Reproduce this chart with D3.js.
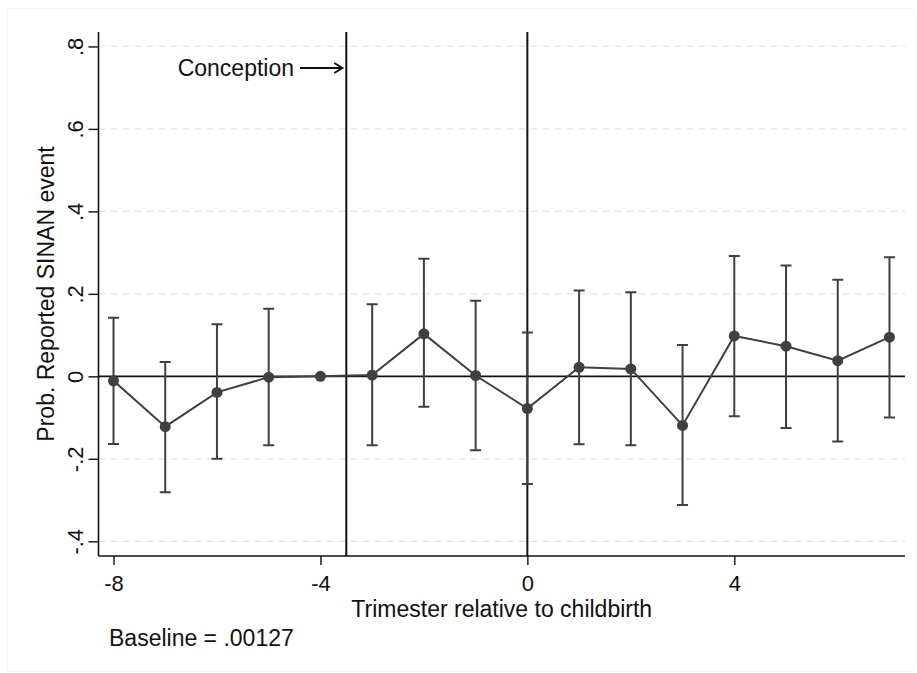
<!DOCTYPE html>
<html><head><meta charset="utf-8">
<script src="https://cdn.jsdelivr.net/npm/d3@7"></script>
<style>html,body{margin:0;padding:0;background:#fff;}svg{display:block;font-family:"Liberation Sans",Arial,sans-serif;}</style>
</head><body>
<svg id="c" width="917" height="673"></svg>
<script>
const trimesters = [-8,-7,-6,-5,-4,-3,-2,-1,0,1,2,3,4,5,6,7];
const estimates  = [-0.011,-0.122,-0.039,-0.002,0,0.003,0.103,0.002,-0.078,0.022,0.018,-0.119,0.098,0.073,0.038,0.095];
const ciLow      = [-0.164,-0.281,-0.200,-0.167,null,-0.167,-0.074,-0.179,-0.261,-0.165,-0.167,-0.312,-0.097,-0.125,-0.158,-0.100];
const ciHigh     = [0.142,0.035,0.126,0.164,null,0.175,0.285,0.183,0.106,0.208,0.204,0.076,0.292,0.269,0.234,0.289];
const yTicks = [-0.4,-0.2,0,0.2,0.4,0.6,0.8];
const yTickLabels = ["-.4","-.2","0",".2",".4",".6",".8"];
const xTicks = [-8,-4,0,4];
const xTickLabels = ["-8","-4","0","4"];
const refLinesX = [-3.5, 0];
const yTitle = "Prob. Reported SINAN event";
const xTitle = "Trimester relative to childbirth";
const noteText = "Baseline = .00127";
const annotText = "Conception";

const svg = d3.select("#c");
const L = 98.5, R = 905, T = 32, B = 556;
const x = d3.scaleLinear().domain([-8.29, 7.30]).range([L, R]);
const y = d3.scaleLinear().domain([-0.4357, 0.835]).range([B, T]);
const col = "#404040";

// faint outer frame
svg.append("rect").attr("x",7.5).attr("y",8.5).attr("width",907).attr("height",663)
  .attr("fill","none").attr("stroke","#f6f6f6").attr("stroke-width",1);

// gridlines
svg.append("g").selectAll("line").data(yTicks.filter(d=>d!==0)).join("line")
  .attr("x1",L).attr("x2",R).attr("y1",d=>y(d)).attr("y2",d=>y(d))
  .attr("stroke","#e3e3e3").attr("stroke-width",1.3).attr("stroke-dasharray","7,5");

// zero line
svg.append("line").attr("x1",L).attr("x2",R).attr("y1",y(0)).attr("y2",y(0))
  .attr("stroke","#111").attr("stroke-width",1.8);

// vertical ref lines
svg.append("g").selectAll("line").data(refLinesX).join("line")
  .attr("x1",d=>x(d)).attr("x2",d=>x(d)).attr("y1",T).attr("y2",B)
  .attr("stroke","#111").attr("stroke-width",2);

// axes
const yAxis = d3.axisLeft(y).tickValues(yTicks).tickFormat((d,i)=>yTickLabels[i]).tickSize(10).tickSizeOuter(0);
const gy = svg.append("g").attr("transform",`translate(${L},0)`).call(yAxis);
gy.select(".domain").attr("stroke","#111").attr("stroke-width",1.6).attr("d",`M0,${T}V${B}`);
gy.selectAll(".tick line").attr("stroke","#111").attr("stroke-width",1.4);
gy.selectAll(".tick text").attr("font-size",22).attr("fill","#111")
  .attr("x",0).attr("y",0).attr("dy",0)
  .attr("text-anchor","middle")
  .attr("transform","translate(-16,0) rotate(-90)");
gy.attr("font-family",null);

const xAxis = d3.axisBottom(x).tickValues(xTicks).tickFormat((d,i)=>xTickLabels[i]).tickSize(9).tickSizeOuter(0);
const gx = svg.append("g").attr("transform",`translate(0,${B})`).call(xAxis);
gx.select(".domain").attr("stroke","#111").attr("stroke-width",1.6).attr("d",`M${L},0H${R}`);
gx.selectAll(".tick line").attr("stroke","#111").attr("stroke-width",1.4);
gx.selectAll(".tick text").attr("font-size",22).attr("fill","#111").attr("y",35).attr("dy",0);
gx.attr("font-family",null);

// error bars
const pts = trimesters.map((t,i)=>({t, e:estimates[i], lo:ciLow[i], hi:ciHigh[i]}));
const eb = svg.append("g").attr("stroke",col).attr("stroke-width",2).attr("fill","none");
pts.filter(d=>d.lo!==null).forEach(d=>{
  const cx = x(d.t), w = 5.5;
  eb.append("path").attr("d",`M${cx},${y(d.lo)}V${y(d.hi)}M${cx-w},${y(d.lo)}H${cx+w}M${cx-w},${y(d.hi)}H${cx+w}`);
});

// series line
svg.append("path").datum(pts).attr("fill","none").attr("stroke",col).attr("stroke-width",2)
  .attr("d",d3.line().x(d=>x(d.t)).y(d=>y(d.e)));
svg.append("g").selectAll("circle").data(pts).join("circle")
  .attr("cx",d=>x(d.t)).attr("cy",d=>y(d.e)).attr("r",5.5).attr("fill",col);

// titles
svg.append("text").attr("transform",`translate(54,${(T+B)/2}) rotate(-90)`)
  .attr("text-anchor","middle").attr("font-size",23).attr("fill","#111").text(yTitle);
svg.append("text").attr("x",(L+R)/2).attr("y",616.5).attr("text-anchor","middle")
  .attr("font-size",23).attr("fill","#111").text(xTitle);
svg.append("text").attr("x",109).attr("y",646).attr("font-size",23).attr("fill","#111").text(noteText);

// annotation
const ay = 68;
svg.append("text").attr("x",294).attr("y",ay+8).attr("text-anchor","end")
  .attr("font-size",23).attr("fill","#111").text(annotText);
svg.append("path").attr("d",`M300,${ay}H${x(-3.5)-4}M${x(-3.5)-12},${ay-5}L${x(-3.5)-4},${ay}L${x(-3.5)-12},${ay+5}`)
  .attr("fill","none").attr("stroke","#111").attr("stroke-width",2);
</script>
</body></html>
